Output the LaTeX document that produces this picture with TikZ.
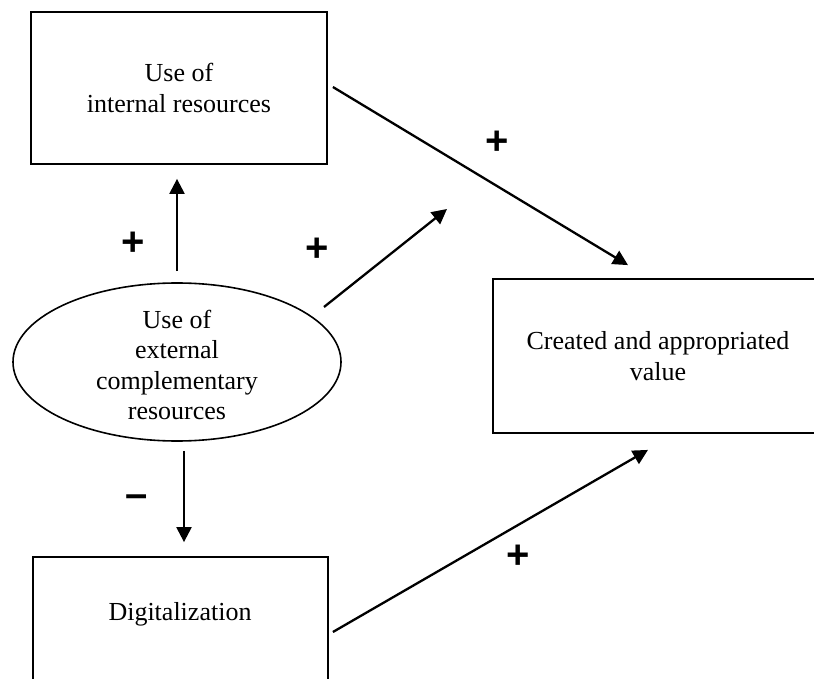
\documentclass[tikz,border=0pt]{standalone}
\usepackage{fontspec}
\setmainfont{Liberation Serif}
\newfontfamily\signfont{Liberation Sans}
\usetikzlibrary{arrows.meta,shapes.geometric,calc}

\tikzset{
  box/.style={draw, line width=1.8pt, rectangle, align=center, inner sep=0pt},
  txt/.style={align=center, inner sep=0pt, font=\fontsize{26}{30.5}\selectfont},
  oval/.style={draw, line width=1.6pt, ellipse, inner sep=0pt},
  arr/.style={line width=2.3pt, -{Triangle[length=15pt,width=15pt]}},
  sign/.style={inner sep=0pt, font=\signfont\bfseries\fontsize{40}{40}\selectfont}
}

\begin{document}
\begin{tikzpicture}[x=1pt, y=-1pt]
  \useasboundingbox (0,0) rectangle (814,679);
  \clip (0,0) rectangle (814,679);

  % boxes and the ellipse
  \node[box, txt, minimum width=296pt, minimum height=152pt] (int) at (179,88)
    {Use of\\internal resources};
  \node[oval, minimum width=328pt, minimum height=158pt] (ext) at (177,362) {};
  \node[txt] (exttxt) at (177,365)
    {Use of\\external\\complementary\\resources};
  \node[box, txt, minimum width=330pt, minimum height=154pt] (val) at (658,356)
    {Created and appropriated\\value};
  \node[box, minimum width=295pt, minimum height=152pt] (dig) at (180.5,633) {};
  \node[txt] (digtxt) at (180,614) {Digitalization};

  % free end of the moderating arrow
  \coordinate (mod) at (447,209);

  % connectors
  \draw[arr] ($(ext.north)+(0,-11)$) -- ($(int.south)+(-2,14)$);
  \draw[arr] ($(ext.south)+(7,9)$) -- ($(dig.north)+(3.5,-14)$);
  \draw[arr] ($(int.east)+(5,-1)$) -- ($(val.north)+(-30,-13)$);
  \draw[arr] ($(dig.east)+(4,-1)$) -- ($(val.south)+(-10,16)$);
  \draw[arr] ($(ext.center)+(147,-55)$) -- (mod);

  % signs
  \node[sign] (s1) at (133.5,243.5) {+};
  \node[sign] (s2) at (317,250) {+};
  \node[sign] (s3) at (497,143) {+};
  \node[sign] (s4) at (518,557) {+};
  \node[sign] (s5) at (137,501) {–};
\end{tikzpicture}
\end{document}
